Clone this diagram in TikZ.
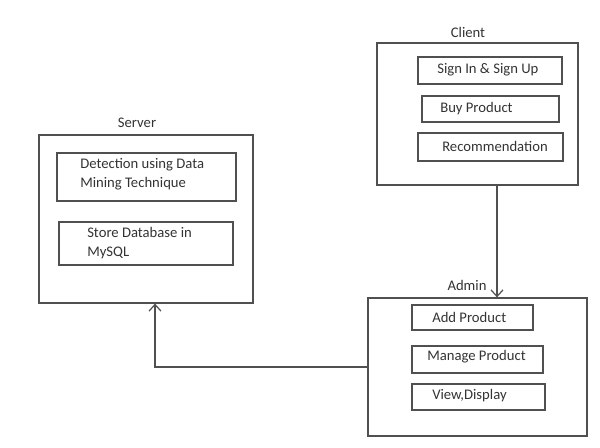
\documentclass[tikz,border=0pt]{standalone}
\usepackage{fontspec}
\setmainfont{Carlito}
\usetikzlibrary{arrows.meta}
\definecolor{linec}{HTML}{505050}
\definecolor{txtc}{HTML}{333333}
\begin{document}
\begin{tikzpicture}[x=0.75pt,y=-0.75pt,
  box/.style={draw=linec,line width=0.9pt,rectangle,inner sep=0pt},
  txt/.style={text=txtc,font=\fontsize{11}{14}\selectfont,inner sep=0pt,anchor=west,align=left},
  ttl/.style={text=txtc,font=\fontsize{11}{14}\selectfont,inner sep=0pt},
  arr/.style={draw=linec,line width=0.9pt,-{Straight Barb[length=5pt,width=9pt]}}]
\useasboundingbox (0,0) rectangle (600,448);
% Client
\node[box,minimum width=150.75pt,minimum height=106.5pt] (client) at (477.5,114) {};
\node[box,minimum width=108pt,minimum height=20.25pt] (signb) at (490,70.5) {};
\node[box,minimum width=102.75pt,minimum height=19.5pt] (buyb) at (490.5,109) {};
\node[box,minimum width=108.75pt,minimum height=21pt] (recb) at (490.5,147) {};
\node[ttl] (clientl) at (468,32) {Client};
\node[txt] (signt) at (437,70) {Sign In \& Sign Up};
\node[txt] (buyt) at (440,109) {Buy Product};
\node[txt] (rect) at (442,146) {Recommendation};
% Server
\node[box,minimum width=160.5pt,minimum height=126pt] (server) at (146,219) {};
\node[box,minimum width=134.25pt,minimum height=36pt] (detb) at (146.5,177) {};
\node[box,minimum width=130.5pt,minimum height=32.25pt] (storeb) at (146,243.5) {};
\node[ttl] (serverl) at (137,123) {Server};
\node[txt] (dett) at (80,174.5) {Detection using Data\\Mining Technique};
\node[txt] (storet) at (87,243) {Store Database in\\MySQL};
% Admin
\node[box,minimum width=164.25pt,minimum height=103.5pt] (admin) at (477.5,367) {};
\node[box,minimum width=90.75pt,minimum height=18.75pt] (addb) at (472.5,317.5) {};
\node[box,minimum width=98.25pt,minimum height=20.25pt] (manb) at (477.5,359.5) {};
\node[box,minimum width=99.75pt,minimum height=19.5pt] (viewb) at (478.5,397) {};
\node[ttl] (adminl) at (467,285) {Admin};
\node[txt] (addt) at (432,317) {Add Product};
\node[txt] (mant) at (427,357) {Manage Product};
\node[txt] (viewt) at (432,396) {View,Display};
% connectors
\coordinate (cx) at (497,0);
\coordinate (sx) at (155,0);
\draw[arr] (client.south -| cx) -- (admin.north -| cx);
\draw[arr] (admin.west) -| (server.south -| sx);
\end{tikzpicture}
\end{document}
